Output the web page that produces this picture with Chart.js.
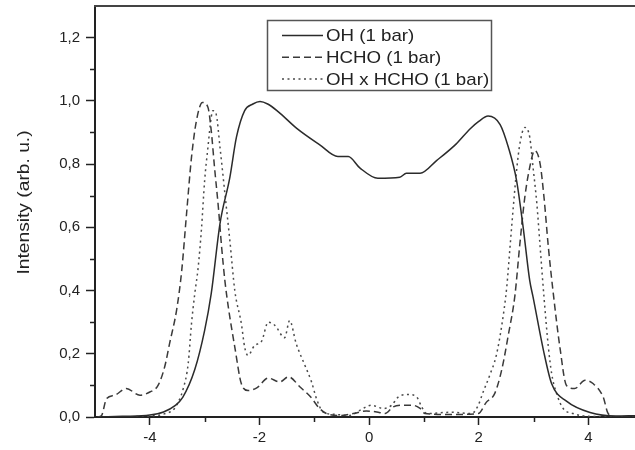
<!DOCTYPE html>
<html>
<head>
<meta charset="utf-8">
<script src="https://cdn.jsdelivr.net/npm/chart.js@4.4.1/dist/chart.umd.min.js"></script>
<style>
  html, body { margin: 0; padding: 0; background: #fff; }
  #wrap { width: 635px; height: 450px; }
</style>
</head>
<body>
<div id="wrap"><canvas id="spectraChart" width="635" height="450"></canvas></div>
<script>
// Values
var series_labels = ['OH (1 bar)', 'HCHO (1 bar)', 'OH x HCHO (1 bar)'];

var oh_x = [-4.9, -4.5, -4.0, -3.75, -3.54, -3.4, -3.18, -3.0, -2.88, -2.72, -2.54, -2.42, -2.27, -2.12, -1.99, -1.85, -1.66, -1.32, -0.9, -0.57, -0.38, -0.17, 0.16, 0.56, 0.68, 0.93, 1.23, 1.59, 1.84, 2.0, 2.17, 2.39, 2.54, 2.69, 2.81, 2.93, 2.99, 3.18, 3.33, 3.6, 4.03, 4.5, 4.85];
var oh_y = [0.0, 0.002, 0.006, 0.016, 0.036, 0.062, 0.15, 0.274, 0.39, 0.612, 0.758, 0.885, 0.969, 0.99, 0.998, 0.99, 0.966, 0.913, 0.861, 0.824, 0.824, 0.788, 0.755, 0.758, 0.771, 0.771, 0.811, 0.864, 0.911, 0.935, 0.952, 0.925, 0.853, 0.748, 0.6, 0.431, 0.38, 0.211, 0.105, 0.05, 0.014, 0.003, 0.004];

var hcho_x = [-4.95, -4.88, -4.79, -4.64, -4.43, -4.18, -4.0, -3.85, -3.73, -3.64, -3.51, -3.42, -3.33, -3.24, -3.15, -3.04, -2.94, -2.88, -2.82, -2.75, -2.69, -2.63, -2.57, -2.45, -2.33, -2.21, -2.05, -1.84, -1.63, -1.47, -1.26, -1.05, -0.93, -0.78, -0.53, -0.29, -0.05, 0.14, 0.29, 0.44, 0.59, 0.8, 0.93, 1.02, 1.5, 1.99, 2.14, 2.29, 2.42, 2.54, 2.66, 2.75, 2.84, 2.93, 3.02, 3.12, 3.19, 3.27, 3.36, 3.48, 3.6, 3.75, 3.94, 4.09, 4.27, 4.36, 4.5, 4.85];
var hcho_y = [0.0, 0.005, 0.058, 0.069, 0.09, 0.069, 0.079, 0.1, 0.158, 0.232, 0.34, 0.46, 0.643, 0.821, 0.937, 0.995, 0.98, 0.906, 0.79, 0.664, 0.537, 0.43, 0.35, 0.221, 0.105, 0.084, 0.092, 0.123, 0.111, 0.127, 0.095, 0.06, 0.032, 0.011, 0.005, 0.011, 0.019, 0.016, 0.011, 0.032, 0.037, 0.037, 0.027, 0.011, 0.008, 0.011, 0.047, 0.074, 0.15, 0.26, 0.385, 0.548, 0.695, 0.79, 0.843, 0.8, 0.695, 0.537, 0.39, 0.221, 0.1, 0.09, 0.116, 0.105, 0.063, 0.011, 0.0, 0.0];

var prod_x = [-4.95, -4.0, -3.7, -3.55, -3.39, -3.3, -3.24, -3.18, -3.12, -3.06, -3.0, -2.94, -2.88, -2.85, -2.79, -2.72, -2.63, -2.54, -2.45, -2.33, -2.27, -2.21, -2.09, -1.96, -1.84, -1.72, -1.54, -1.45, -1.33, -1.17, -1.05, -0.96, -0.84, -0.66, -0.35, -0.17, 0.04, 0.26, 0.41, 0.53, 0.71, 0.86, 0.96, 1.05, 1.5, 1.87, 1.99, 2.08, 2.2, 2.32, 2.42, 2.51, 2.57, 2.63, 2.69, 2.75, 2.84, 2.93, 2.99, 3.06, 3.12, 3.19, 3.27, 3.33, 3.42, 3.54, 3.72, 4.0, 4.85];
var prod_y = [0.0, 0.003, 0.012, 0.027, 0.09, 0.169, 0.295, 0.39, 0.47, 0.59, 0.748, 0.853, 0.948, 0.969, 0.958, 0.853, 0.706, 0.558, 0.4, 0.295, 0.221, 0.195, 0.226, 0.24, 0.3, 0.29, 0.251, 0.305, 0.232, 0.163, 0.111, 0.058, 0.016, 0.009, 0.005, 0.021, 0.037, 0.027, 0.037, 0.063, 0.071, 0.065, 0.032, 0.011, 0.015, 0.011, 0.037, 0.079, 0.132, 0.195, 0.29, 0.41, 0.537, 0.664, 0.78, 0.864, 0.916, 0.885, 0.79, 0.674, 0.537, 0.379, 0.221, 0.137, 0.074, 0.027, 0.011, 0.002, 0.0];

var x_major_ticks = [-4, -2, 0, 2, 4];
var x_minor_ticks = [-3, -1, 1, 3];
var y_major_ticks = [0.0, 0.2, 0.4, 0.6, 0.8, 1.0, 1.2];
var y_minor_ticks = [0.1, 0.3, 0.5, 0.7, 0.9, 1.1];
var y_title = 'Intensity (arb. u.)';

function to_points(xs, ys)
{
    var pts = [];
    for (var i = 0; i < xs.length; i++) {
        pts.push({x: xs[i], y: ys[i]});
    }
    return pts;
}

function fmt_comma(v)
{
    return v.toFixed(1).replace('.', ',');
}

var line_styles = [
    {color: '#2b2b2b', dash: []},
    {color: '#3a3a3a', dash: [7, 4]},
    {color: '#4a4a4a', dash: [2, 3.5]}
];

// minor ticks, top frame line, y title and boxed legend
var frame_plugin = {
    id: 'frame',
    afterDraw: function(chart) {
        var ctx = chart.ctx;
        var area = chart.chartArea;
        var xs = chart.scales.x, ys = chart.scales.y;
        ctx.save();
        ctx.strokeStyle = '#222';
        ctx.lineWidth = 1.5;
        ctx.beginPath();
        x_minor_ticks.forEach(function(v) {
            var px = Math.round(xs.getPixelForValue(v)) + 0.5;
            ctx.moveTo(px, area.bottom);
            ctx.lineTo(px, area.bottom + 5);
        });
        y_minor_ticks.forEach(function(v) {
            var py = Math.round(ys.getPixelForValue(v)) + 0.5;
            ctx.moveTo(area.left, py);
            ctx.lineTo(area.left - 5, py);
        });
        ctx.stroke();

        ctx.strokeStyle = '#444';
        ctx.lineWidth = 2;
        ctx.beginPath();
        ctx.moveTo(area.left - 1, area.top);
        ctx.lineTo(chart.width, area.top);
        ctx.stroke();

        // y axis title (stretched a little along its length like the original)
        ctx.fillStyle = '#222';
        ctx.font = '17px "Liberation Sans", Arial, sans-serif';
        ctx.textAlign = 'center';
        ctx.textBaseline = 'middle';
        ctx.translate(24.5, 202.5);
        ctx.rotate(-Math.PI / 2);
        ctx.scale(1.13, 1);
        ctx.fillText(y_title, 0, 0);
        ctx.setTransform(1, 0, 0, 1, 0, 0);

        // legend box
        var bx = 267.5, by = 20.5, bw = 224, bh = 70;
        ctx.fillStyle = '#fff';
        ctx.fillRect(bx, by, bw, bh);
        ctx.strokeStyle = '#555';
        ctx.lineWidth = 1.5;
        ctx.strokeRect(bx, by, bw, bh);
        ctx.font = '17px "Liberation Sans", Arial, sans-serif';
        ctx.textAlign = 'left';
        chart.data.datasets.forEach(function(ds, i) {
            var ry = 35.5 + i * 21.8;
            ctx.strokeStyle = ds.borderColor;
            ctx.lineWidth = 1.5;
            ctx.setLineDash(ds.borderDash);
            ctx.beginPath();
            ctx.moveTo(282, ry);
            ctx.lineTo(323, ry);
            ctx.stroke();
            ctx.setLineDash([]);
            ctx.fillStyle = '#222';
            ctx.save();
            ctx.translate(326, ry + 1);
            ctx.scale(1.1, 1);
            ctx.fillText(ds.label, 0, 0);
            ctx.restore();
        });
        ctx.restore();
    }
};

var datasets = [];
var xs_all = [oh_x, hcho_x, prod_x];
var ys_all = [oh_y, hcho_y, prod_y];
for (var i = 0; i < series_labels.length; i++) {
    datasets.push({
        label: series_labels[i],
        data: to_points(xs_all[i], ys_all[i]),
        showLine: true,
        borderColor: line_styles[i].color,
        borderDash: line_styles[i].dash,
        borderWidth: 1.5,
        pointRadius: 0,
        fill: false,
        cubicInterpolationMode: 'monotone'
    });
}

var tick_font = {family: '"Liberation Sans", Arial, sans-serif', size: 15};

const chart = new Chart(document.getElementById('spectraChart'), {
    type: 'scatter',
    data: {datasets: datasets},
    options: {
        responsive: false,
        animation: false,
        layout: {padding: {top: 6, left: 0, right: 0, bottom: 0}},
        plugins: {
            legend: {display: false},
            tooltip: {enabled: false}
        },
        scales: {
            x: {
                type: 'linear',
                min: -5,
                max: 4.85,
                afterBuildTicks: function(scale) {
                    scale.ticks = x_major_ticks.map(function(v) { return {value: v}; });
                },
                afterFit: function(scale) {
                    scale.height = 33;
                    scale.paddingLeft = 0;
                    scale.paddingRight = 0;
                },
                grid: {drawOnChartArea: false, drawTicks: true, tickLength: 8, tickColor: '#222', tickWidth: 1.5},
                border: {display: true, color: '#222', width: 2},
                ticks: {
                    color: '#222',
                    font: tick_font,
                    padding: 4,
                    maxRotation: 0,
                    callback: function(v) { return String(v); }
                }
            },
            y: {
                type: 'linear',
                min: 0,
                max: 1.3,
                afterBuildTicks: function(scale) {
                    scale.ticks = y_major_ticks.map(function(v) { return {value: v}; });
                },
                afterFit: function(scale) {
                    scale.width = 95;
                    scale.paddingTop = 0;
                    scale.paddingBottom = 0;
                },
                grid: {drawOnChartArea: false, drawTicks: true, tickLength: 9, tickColor: '#222', tickWidth: 1.5},
                border: {display: true, color: '#222', width: 2},
                ticks: {
                    color: '#222',
                    font: tick_font,
                    padding: 6,
                    callback: function(v) { return fmt_comma(v); }
                }
            }
        }
    },
    plugins: [frame_plugin]
});
</script>
</body>
</html>
